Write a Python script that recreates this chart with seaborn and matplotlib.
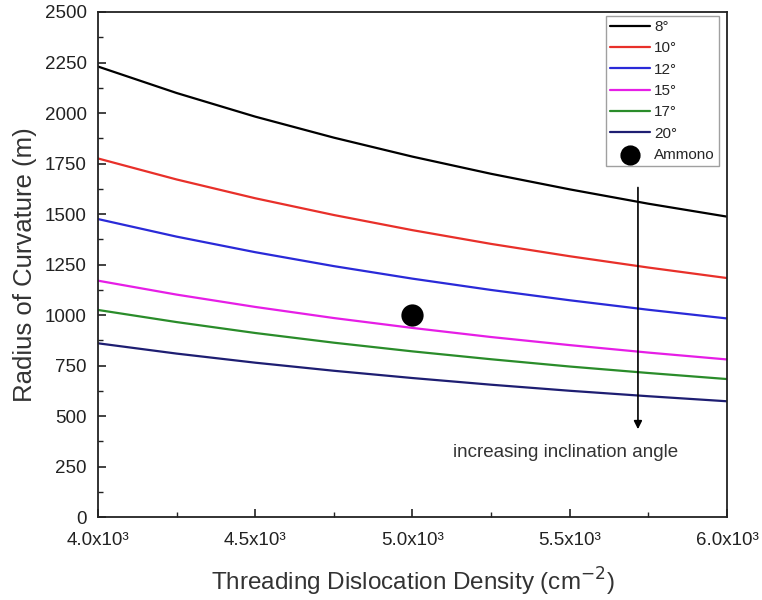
import matplotlib
matplotlib.use("Agg")
import matplotlib.pyplot as plt
import seaborn as sns
import pandas as pd
from matplotlib.ticker import MultipleLocator, FuncFormatter

sns.set_theme(style="white")
plt.rcParams['font.family'] = ['Liberation Sans', 'DejaVu Sans']

density = [4000, 4250, 4500, 4750, 5000, 5250, 5500, 5750, 6000]
r_8 = [2230, 2099, 1982, 1878, 1784, 1699, 1622, 1551, 1487]
r_10 = [1775, 1671, 1578, 1495, 1420, 1352, 1291, 1235, 1183]
r_12 = [1475, 1388, 1311, 1242, 1180, 1124, 1073, 1026, 983]
r_15 = [1170, 1101, 1040, 985, 936, 891, 851, 814, 780]
r_17 = [1025, 965, 911, 863, 820, 781, 745, 713, 683]
r_20 = [860, 809, 764, 724, 688, 655, 625, 598, 573]
angles = ["8°", "10°", "12°", "15°", "17°", "20°"]
colors = ["#000000", "#e8302a", "#2a2ad8", "#e61ee6", "#2a8c2a", "#1e1e72"]
ammono_x = [5000]
ammono_y = [1000]

rows = []
for name, vals in zip(angles, [r_8, r_10, r_12, r_15, r_17, r_20]):
    for x, y in zip(density, vals):
        rows.append({"density": x, "radius": y, "angle": name})
df = pd.DataFrame(rows)

fig = plt.figure(figsize=(7.62, 6.0), dpi=100)
ax = fig.add_axes([0.1286, 0.1383, 0.8254, 0.8417])

sns.lineplot(data=df, x="density", y="radius", hue="angle", hue_order=angles,
             palette=dict(zip(angles, colors)), linewidth=1.6, ax=ax)
sns.scatterplot(x=ammono_x, y=ammono_y, color="black", s=220, ax=ax,
                label="Ammono", zorder=5, edgecolor="black")

ax.set_xlim(4000, 6000)
ax.set_ylim(0, 2500)
ax.xaxis.set_major_locator(MultipleLocator(500))
ax.xaxis.set_minor_locator(MultipleLocator(250))
ax.yaxis.set_major_locator(MultipleLocator(250))
ax.yaxis.set_minor_locator(MultipleLocator(125))
ax.xaxis.set_major_formatter(FuncFormatter(lambda v, p: f"{v/1000:.1f}x10³"))
ax.tick_params(which="both", direction="in", colors="#222222", labelsize=13.5,
               bottom=True, left=True, top=False, right=False)
ax.tick_params(which="major", length=6, width=1.2)
ax.tick_params(which="minor", length=3.5, width=1.0)
ax.tick_params(axis="x", pad=11)
ax.tick_params(axis="y", pad=8)
for s in ax.spines.values():
    s.set_color("#222222")
    s.set_linewidth(1.3)

ax.set_xlabel("Threading Dislocation Density (cm$^{-2}$)", fontsize=17.5, color="#333333", labelpad=12)
ax.set_ylabel("Radius of Curvature (m)", fontsize=18.5, color="#333333", labelpad=6)

ax.annotate("", xy=(5717, 421), xytext=(5717, 1645),
            arrowprops=dict(arrowstyle="-|>", color="black", lw=1.2, mutation_scale=12))
ax.text(5488, 318, "increasing inclination angle", ha="center", va="center",
        fontsize=13.5, color="#333333")

leg = ax.legend(loc="upper right", bbox_to_anchor=(0.987, 0.992), fontsize=11,
                frameon=True, fancybox=False, edgecolor="#888888",
                handlelength=2.6, handletextpad=0.3, borderpad=0.25,
                borderaxespad=0.0, labelspacing=0.48, markerscale=0.9)
leg.get_frame().set_linewidth(1.0)

fig.savefig("out.png", dpi=100)
